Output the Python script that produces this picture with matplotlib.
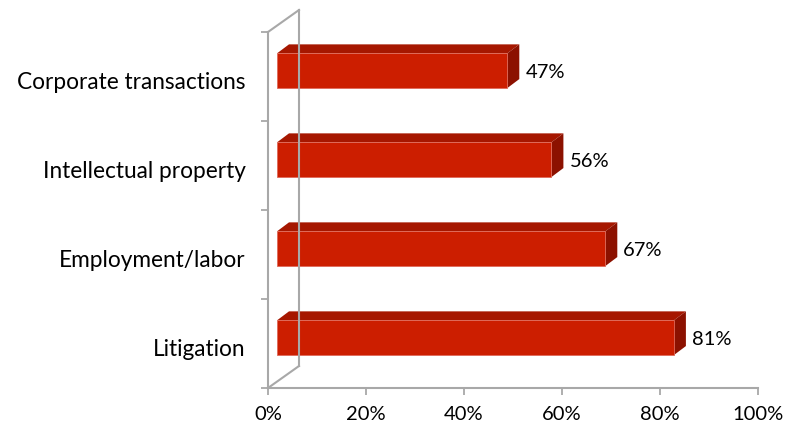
import matplotlib
matplotlib.use("Agg")
import matplotlib.pyplot as plt
from matplotlib.patches import Polygon
from matplotlib.lines import Line2D
import numpy as np

# Chart data (bottom to top)
categories = ["Litigation", "Employment/labor", "Intellectual property", "Corporate transactions"]
values = [81, 67, 56, 47]
value_labels = ["81%", "67%", "56%", "47%"]
x_ticks = [0, 20, 40, 60, 80, 100]
x_tick_labels = ["0%", "20%", "40%", "60%", "80%", "100%"]

front_color = "#CC1E00"
top_color = "#A61700"
side_color = "#8C1100"
wall_color = "#A8A8A8"

plt.rcParams['font.family'] = ['Lato', 'DejaVu Sans']

W, H = 785, 433
fig = plt.figure(figsize=(W / 100, H / 100), dpi=100)
ax = fig.add_axes([268 / W, (H - 388) / H, (758 - 268) / W, (388 - 32) / H])
ax.set_xlim(0, 100)
ax.set_ylim(0, len(categories))

# axes styling
for s in ["top", "right"]:
    ax.spines[s].set_visible(False)
for s in ["left", "bottom"]:
    ax.spines[s].set_color(wall_color)
    ax.spines[s].set_linewidth(1.5)

ax.set_xticks(x_ticks)
ax.set_xticklabels(x_tick_labels, fontsize=14.5)
ax.tick_params(axis="x", length=5, width=1.3, color=wall_color, pad=8)

ax.set_yticks(np.arange(len(categories) + 1))
ax.set_yticklabels([])
ax.tick_params(axis="y", which="major", length=5, width=1.3, color=wall_color)
ax.set_yticks(np.arange(len(categories)) + 0.46, minor=True)
ax.set_yticklabels(categories, minor=True, fontsize=16.3)
ax.tick_params(axis="y", which="minor", length=0, pad=16)

# depth offsets in pixels
wall_dx, wall_dy = 31, 22
bar_dx = 9
depth_dx, depth_dy = 12, 9
y_lo, y_hi = 0.37, 0.76

to_disp = ax.transData.transform

# back wall lines
p0 = to_disp((0, 0))
p1 = to_disp((0, len(categories)))
fig.add_artist(Line2D([p0[0] + wall_dx, p1[0] + wall_dx], [p0[1] + wall_dy, p1[1] + wall_dy],
                      transform=None, color=wall_color, lw=1.5))
for p in [p0, p1]:
    fig.add_artist(Line2D([p[0], p[0] + wall_dx], [p[1], p[1] + wall_dy],
                          transform=None, color=wall_color, lw=1.5))

# 3d-ish bars
for i, v in enumerate(values):
    x0, yb = to_disp((0, i + y_lo))
    x1, yt = to_disp((v, i + y_hi))
    x0 += bar_dx
    x1 += bar_dx
    front = [(x0, yb), (x1, yb), (x1, yt), (x0, yt)]
    top = [(x0, yt), (x1, yt), (x1 + depth_dx, yt + depth_dy), (x0 + depth_dx, yt + depth_dy)]
    side = [(x1, yb), (x1 + depth_dx, yb + depth_dy), (x1 + depth_dx, yt + depth_dy), (x1, yt)]
    fig.add_artist(Polygon(top, closed=True, transform=None, facecolor=top_color, edgecolor="none"))
    fig.add_artist(Polygon(side, closed=True, transform=None, facecolor=side_color, edgecolor="none"))
    fig.add_artist(Polygon(front, closed=True, transform=None, facecolor=front_color,
                           edgecolor="#E06A5A", lw=0.6))
    lx, ly = to_disp((v, i + 0.54))
    fig.text((lx + 27) / W, ly / H, value_labels[i], fontsize=14.5, va="center", ha="left")

fig.savefig("out.png", dpi=100)
